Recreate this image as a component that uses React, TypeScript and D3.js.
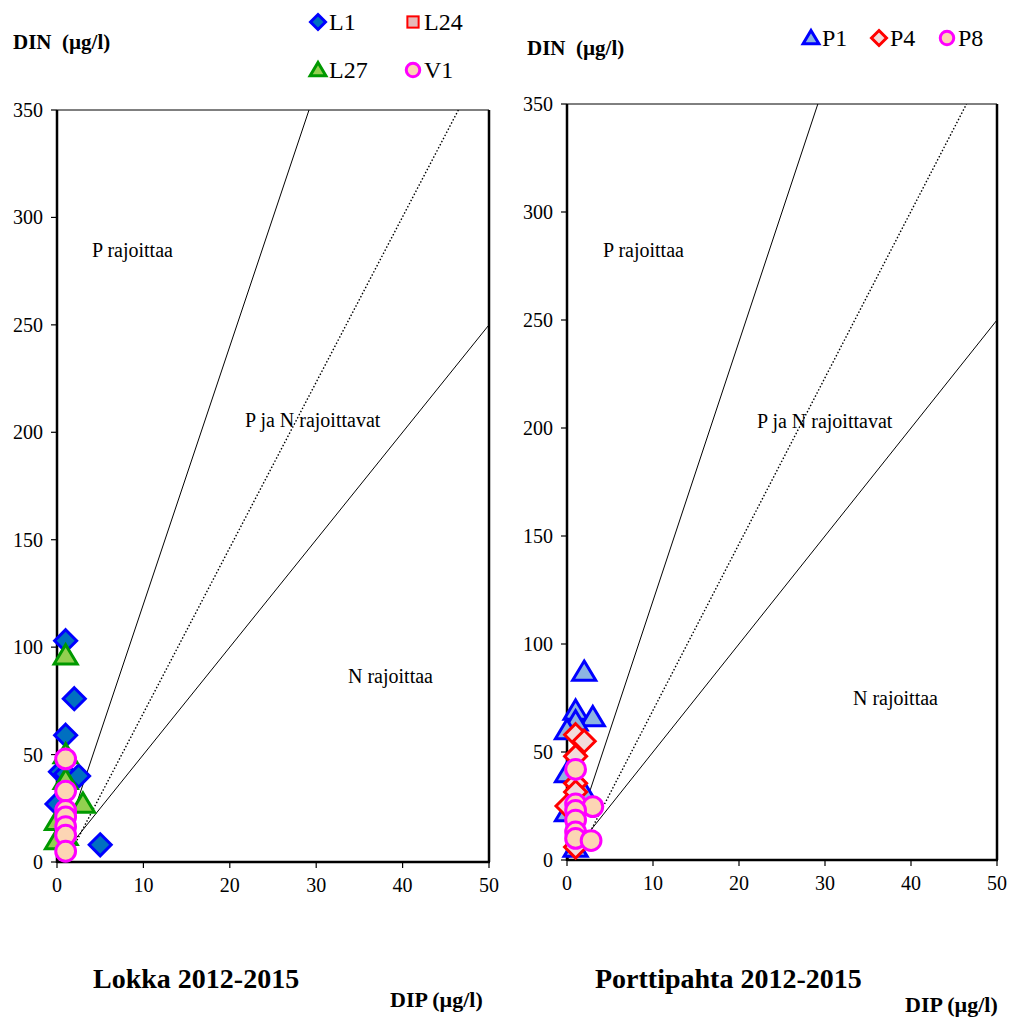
import React from "react";
import * as d3 from "d3";

// ---- data (DIP µg/l, DIN µg/l) ----
const lokkaL1: [number, number][] = [
  [1, 103], [2, 76], [1, 59], [0.4, 42], [1, 41], [2.5, 40], [0, 27], [5, 8],
];
const lokkaL24: [number, number][] = [];
const lokkaL27: [number, number][] = [
  [1, 96], [1, 50], [1, 38], [3, 27], [0, 19], [1, 12], [0, 10],
];
const lokkaV1: [number, number][] = [
  [1, 48], [1, 33], [1, 24], [1, 21], [1, 16.5], [1, 12.5], [1, 5],
];

const porttiP1: [number, number][] = [
  [2, 87], [1, 69], [3, 66], [1, 64], [0, 60], [0, 40], [2, 31], [0, 22], [1, 5.5],
];
const porttiP4: [number, number][] = [
  [1, 58], [2, 55], [1, 48], [1, 35.5], [1, 31.5], [0, 25], [1, 6],
];
const porttiP8: [number, number][] = [
  [1, 42], [1, 26], [3, 24.7], [1, 23], [1, 18.5], [1, 13], [1, 10], [2.8, 9],
];

const xTicks = [0, 10, 20, 30, 40, 50];
const yTicks = [0, 50, 100, 150, 200, 250, 300, 350];

// N:P limit lines: start on the x axis, slope DIN/DIP
const limitLines = [
  { start: 0, slope: 12, dotted: false },
  { start: 1, slope: 7.7, dotted: true },
  { start: 0, slope: 5, dotted: false },
];

const serif = "'Liberation Serif', 'Times New Roman', serif";

type Shape = "diamond" | "square" | "triangle" | "circle";

const Marker = ({ shape, x, y, fill, stroke, s = 11 }: any) => {
  if (shape === "diamond")
    return (
      <path
        d={`M${x},${y - s}L${x + s},${y}L${x},${y + s}L${x - s},${y}Z`}
        fill={fill}
        stroke={stroke}
        strokeWidth={3}
      />
    );
  if (shape === "square")
    return (
      <rect x={x - s * 0.75} y={y - s * 0.75} width={s * 1.5} height={s * 1.5} fill={fill} stroke={stroke} strokeWidth={2} />
    );
  if (shape === "triangle")
    return (
      <path
        d={`M${x},${y - s}L${x + s * 1.05},${y + s * 0.75}L${x - s * 1.05},${y + s * 0.75}Z`}
        fill={fill}
        stroke={stroke}
        strokeWidth={3}
      />
    );
  return <circle cx={x} cy={y} r={s * 0.9} fill={fill} stroke={stroke} strokeWidth={3} />;
};

const Panel = ({ frame, series, labels, title, dip, din, legend }: any) => {
  const x = d3.scaleLinear().domain([0, 50]).range([frame.left, frame.right]);
  const y = d3.scaleLinear().domain([0, 350]).range([frame.bottom, frame.top]);
  const clipId = "clip" + frame.left;

  return (
    <g fontFamily={serif}>
      <defs>
        <clipPath id={clipId}>
          <rect x={frame.left} y={frame.top} width={frame.right - frame.left} height={frame.bottom - frame.top} />
        </clipPath>
      </defs>

      {/* limit lines */}
      <g clipPath={`url(#${clipId})`}>
        {limitLines.map((l, i) => {
          const xEnd = Math.min(50, l.start + 350 / l.slope);
          const yEnd = (xEnd - l.start) * l.slope;
          return (
            <line
              key={i}
              x1={x(l.start)}
              y1={y(0)}
              x2={x(xEnd)}
              y2={y(yEnd)}
              stroke="#000"
              strokeWidth={l.dotted ? 1.4 : 1}
              strokeDasharray={l.dotted ? "1.5,2" : undefined}
            />
          );
        })}
      </g>

      {/* region labels */}
      {labels.map((t: any, i: number) => (
        <text key={i} x={t.x} y={t.y} fontSize={20} fill="#000">
          {t.text}
        </text>
      ))}

      {/* frame */}
      <line x1={frame.left} x2={frame.right} y1={frame.top} y2={frame.top} stroke="#000" strokeWidth={1} />
      <line x1={frame.right} x2={frame.right} y1={frame.top} y2={frame.bottom} stroke="#000" strokeWidth={2.5} />
      <line x1={frame.left} x2={frame.right + 1} y1={frame.bottom} y2={frame.bottom} stroke="#000" strokeWidth={2.5} />
      <line x1={frame.left} x2={frame.left} y1={frame.top} y2={frame.bottom + 1} stroke="#000" strokeWidth={2.5} />

      {/* ticks */}
      {yTicks.map((t) => (
        <g key={"y" + t}>
          <line x1={frame.left - 6} x2={frame.left} y1={y(t)} y2={y(t)} stroke="#000" strokeWidth={1.2} />
          <text x={frame.left - 14} y={y(t) + 7} fontSize={20} textAnchor="end">
            {t}
          </text>
        </g>
      ))}
      {xTicks.map((t) => (
        <g key={"x" + t}>
          <line x1={x(t)} x2={x(t)} y1={frame.bottom} y2={frame.bottom + 6} stroke="#000" strokeWidth={1.2} />
          <text x={x(t)} y={frame.bottom + 30} fontSize={20} textAnchor="middle">
            {t}
          </text>
        </g>
      ))}

      {/* points */}
      {series.map((s: any, si: number) =>
        s.data.map((d: [number, number], i: number) => (
          <Marker key={si + "-" + i} shape={s.shape} x={x(d[0])} y={y(d[1])} fill={s.fill} stroke={s.stroke} />
        ))
      )}

      {/* legend */}
      {series.map((s: any, si: number) => {
        const p = legend[si];
        return (
          <g key={"lg" + si}>
            <Marker shape={s.shape} x={p.x} y={p.y} fill={s.fill} stroke={s.stroke} s={7.5} />
            <text x={p.x + 11} y={p.y + 8} fontSize={24}>
              {s.name}
            </text>
          </g>
        );
      })}

      {/* titles */}
      <text x={din.x} y={din.y} fontSize={21} fontWeight="bold" style={{ whiteSpace: "pre" }}>
        {"DIN  (µg/l)"}
      </text>
      <text x={title.x} y={title.y} fontSize={28} fontWeight="bold">
        {title.text}
      </text>
      <text x={dip.x} y={dip.y} fontSize={22} fontWeight="bold">
        DIP (µg/l)
      </text>
    </g>
  );
};

export default function App() {
  const lokkaSeries = [
    { name: "L1", shape: "diamond" as Shape, data: lokkaL1, fill: "#0070c0", stroke: "#0000ff" },
    { name: "L24", shape: "square" as Shape, data: lokkaL24, fill: "#e6b9b8", stroke: "#ff0000" },
    { name: "L27", shape: "triangle" as Shape, data: lokkaL27, fill: "#92d050", stroke: "#009900" },
    { name: "V1", shape: "circle" as Shape, data: lokkaV1, fill: "#fcd5b4", stroke: "#ff00ff" },
  ];
  const porttiSeries = [
    { name: "P1", shape: "triangle" as Shape, data: porttiP1, fill: "#8db4e2", stroke: "#0000ff" },
    { name: "P4", shape: "diamond" as Shape, data: porttiP4, fill: "#f2dcdb", stroke: "#ff0000" },
    { name: "P8", shape: "circle" as Shape, data: porttiP8, fill: "#fcd5b4", stroke: "#ff00ff" },
  ];

  return (
    <div style={{ position: "absolute", left: 0, top: 0 }}>
      <svg width={1010} height={1017} style={{ display: "block", background: "#fff" }}>
        <Panel
          frame={{ left: 57, right: 489, top: 110, bottom: 862 }}
          series={lokkaSeries}
          labels={[
            { text: "P rajoittaa", x: 92, y: 257 },
            { text: "P ja N rajoittavat", x: 245, y: 427 },
            { text: "N rajoittaa", x: 348, y: 683 },
          ]}
          legend={[
            { x: 318, y: 22 },
            { x: 413, y: 22 },
            { x: 318, y: 70 },
            { x: 413, y: 70 },
          ]}
          din={{ x: 13, y: 49 }}
          title={{ text: "Lokka 2012-2015", x: 93, y: 988 }}
          dip={{ x: 390, y: 1007 }}
        />
        <Panel
          frame={{ left: 567, right: 997, top: 104, bottom: 860 }}
          series={porttiSeries}
          labels={[
            { text: "P rajoittaa", x: 603, y: 257 },
            { text: "P ja N rajoittavat", x: 757, y: 428 },
            { text: "N rajoittaa", x: 853, y: 705 },
          ]}
          legend={[
            { x: 811, y: 38 },
            { x: 879, y: 38 },
            { x: 947, y: 38 },
          ]}
          din={{ x: 527, y: 55 }}
          title={{ text: "Porttipahta 2012-2015", x: 595, y: 988 }}
          dip={{ x: 905, y: 1012 }}
        />
      </svg>
    </div>
  );
}
